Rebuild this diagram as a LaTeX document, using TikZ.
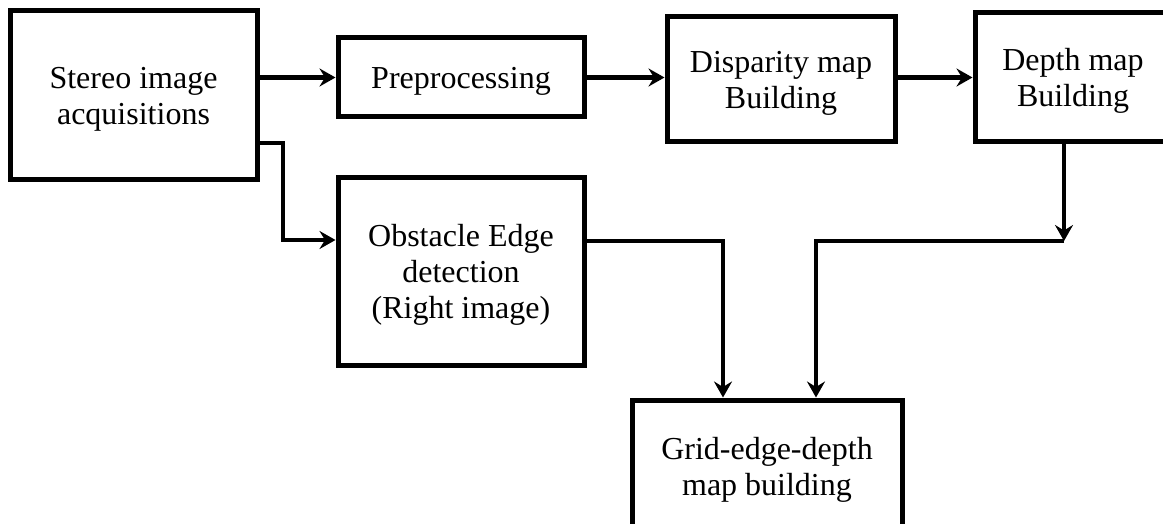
\documentclass[tikz,border=0pt]{standalone}
\usepackage{fontspec}
\setmainfont{Liberation Serif}
\usetikzlibrary{arrows.meta}
\newcommand{\lowr}{\rule{0pt}{29pt}}
\begin{document}
\begin{tikzpicture}[x=1pt,y=-1pt,
  blk/.style={draw=black, line width=5pt, fill=white, align=center, inner sep=0pt,
    font=\fontsize{32}{36}\selectfont},
  conn/.style={draw=black, line width=4.5pt},
  arr/.style={conn, -{Stealth[length=16pt,width=18pt,inset=5.5pt]}}]
\useasboundingbox (0,0) rectangle (1163,524);
\clip (0,0) rectangle (1163,524);
\fill[white] (0,0) rectangle (1163,524);

\node[blk, minimum width=247pt, minimum height=169pt] (b1) at (133.5,95) {\lowr Stereo image\\acquisitions};
\node[blk, minimum width=246pt, minimum height=79pt] (b2) at (461,77.5) {\lowr Preprocessing};
\node[blk, minimum width=228pt, minimum height=125pt] (b3) at (781,79.5) {\lowr Disparity map\\Building};
\node[blk, minimum width=196pt, minimum height=129pt] (b4) at (1073,77.5) {\lowr Depth map\\Building};
\node[blk, minimum width=246pt, minimum height=187pt] (b5) at (461,271.5) {\lowr Obstacle Edge\\detection\\(Right image)};
\node[blk, minimum width=270pt, minimum height=132pt] (b6) at (767,466) {\lowr Grid-edge-depth\\map building};

\coordinate (j) at (1064,241);

\draw[arr] (b1.east |- b2.west) -- (b2.west);
\draw[arr] (b2.east) -- (b2.east -| b3.west);
\draw[arr] (b3.east |- b4.west) -- (b4.west);
\draw[arr] (b1.east |- 0,143) -| (283,240) -- (b5.west |- 0,240);
\draw[arr] (b5.east |- 0,241) -| ([xshift=-44pt]b6.north);
\draw[arr] (b4.south -| j) -- (j);
\draw[arr] (j) -| ([xshift=49pt]b6.north);
\end{tikzpicture}
\end{document}
